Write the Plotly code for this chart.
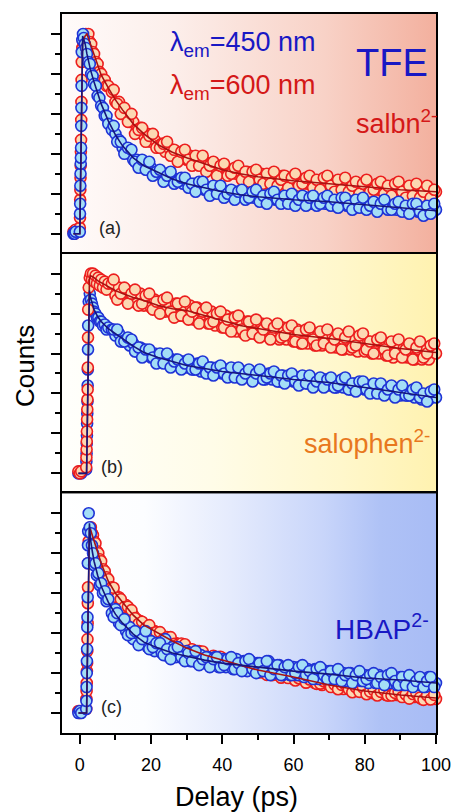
import plotly.graph_objects as go
from plotly.subplots import make_subplots

# ---------------- data ----------------
# delay grids (ps)
delay_a = [-1.8, -1.5, -1.2,
           0.0, 0.05, 0.1, 0.15, 0.2, 0.25, 0.3, 0.35, 0.4, 0.45, 0.5, 0.55,
           0.7, 0.9, 1.1, 1.4, 1.7, 2.0, 2.4, 2.8, 3.2, 3.6, 4.0, 4.5, 5.0, 5.5,
           6.0, 6.5, 7.0, 7.5, 8.0] + list(range(9, 101))
delay_bc = [-0.4, 0.0, 0.4,
            1.8, 1.85, 1.9, 1.95, 2.0, 2.05, 2.1, 2.15, 2.2, 2.25, 2.3, 2.35,
            2.5, 2.8, 3.1, 3.4, 3.7, 4.0, 4.4, 4.8, 5.2, 5.6, 6.0, 6.5, 7.0, 7.5,
            8.0] + list(range(9, 101))
# interleaved half-step delays of the long-time scans
delay_half = [t + 0.5 for t in range(9, 100)]

# (a) salbn2-, normalised counts
salbn_450 = [0.0, 0.0, 0.01,
             .01, .10, .15, .24, .30, .35, .38, .43, .54, .63, .74, .91,
             .97, 1.0, .98, .95, .93, .90, .86, .85, .80, .79, .75, .74, .69, .68,
             .64, .63, .59, .59, .55,
             .52, .50, .47, .43, .42, .40, .37, .37, .34, .35,
             .32, .33, .30, .31, .29, .30, .27, .28, .26, .27,
             .25, .26, .24, .25, .23, .24, .22, .23, .21, .23,
             .21, .22, .20, .21, .19, .21, .19, .20, .18, .20,
             .18, .19, .18, .19, .17, .19, .17, .18, .17, .18,
             .16, .18, .16, .17, .16, .18, .15, .17, .16, .17,
             .15, .17, .15, .16, .15, .16, .14, .16, .14, .15,
             .14, .15, .13, .15, .13, .14, .13, .14, .13, .14,
             .12, .14, .12, .13, .12, .13, .11, .13, .11, .12,
             .11, .12]
salbn_450_half = [.54, .46, .46, .40, .43, .42, .36, .33, .37, .32,
                  .36, .29, .31, .32, .26, .29, .31, .25, .26, .28,
                  .28, .23, .25, .21, .26, .26, .22, .19, .24, .20,
                  .24, .18, .20, .22, .17, .21, .22, .17, .18, .21,
                  .22, .16, .19, .15, .20, .21, .17, .15, .19, .15,
                  .20, .14, .17, .19, .14, .18, .19, .14, .15, .18,
                  .19, .14, .17, .13, .18, .18, .14, .12, .17, .13,
                  .18, .12, .14, .16, .11, .15, .17, .12, .12, .15,
                  .16, .11, .14, .10, .15, .15, .11, .09, .14, .10,
                  .15]
salbn_600 = [0.01, 0.0, 0.02,
             .03, .08, .17, .22, .28, .34, .41, .47, .57, .66, .77, .86,
             .93, .96, .98, .99, 1.0, .99, 1.0, .96, .95, .91, .90, .86, .85, .81,
             .80, .77, .77, .74, .74,
             .71, .66, .66, .61, .60, .56, .56, .52, .53, .49,
             .50, .46, .47, .44, .45, .41, .43, .40, .41, .38,
             .40, .37, .39, .36, .37, .35, .36, .33, .35, .32,
             .34, .31, .33, .30, .32, .30, .31, .29, .31, .28,
             .30, .28, .30, .27, .29, .27, .28, .26, .29, .26,
             .28, .25, .28, .25, .27, .25, .27, .24, .26, .25,
             .26, .24, .26, .23, .26, .23, .25, .23, .25, .22,
             .25, .22, .24, .22, .24, .22, .24, .21, .23, .21,
             .23, .21, .23, .20, .22, .21, .22, .20, .22, .20,
             .22, .21]
salbn_600_half = [.72, .65, .60, .63, .56, .60, .50, .52, .53, .46,
                  .49, .50, .43, .43, .45, .46, .39, .42, .36, .41,
                  .42, .37, .34, .39, .34, .39, .31, .34, .36, .29,
                  .34, .35, .29, .30, .33, .34, .27, .31, .26, .31,
                  .32, .27, .25, .30, .25, .31, .24, .27, .29, .23,
                  .28, .30, .24, .25, .28, .29, .23, .27, .22, .28,
                  .29, .24, .21, .27, .22, .28, .21, .24, .26, .20,
                  .25, .27, .21, .22, .25, .26, .20, .24, .19, .25,
                  .26, .21, .18, .24, .19, .25, .18, .21, .24, .18,
                  .22]

# (b) salophen2-
salophen_450 = [0.0, 0.01, 0.0,
                .02, .06, .10, .15, .19, .25, .30, .36, .44, .52, .62, .74,
                .86, .90, .87, .85, .83, .81, .80, .78, .78, .76, .76, .74, .745, .72,
                .73,
                .72, .69, .70, .66, .67, .64, .65, .61, .63, .59,
                .61, .58, .60, .57, .59, .56, .58, .55, .57, .54,
                .56, .53, .55, .52, .55, .51, .54, .51, .53, .50,
                .53, .50, .52, .49, .52, .49, .51, .48, .51, .48,
                .50, .48, .50, .47, .50, .47, .49, .46, .49, .46,
                .48, .46, .48, .45, .48, .45, .47, .45, .47, .44,
                .47, .44, .46, .43, .46, .43, .45, .42, .45, .42,
                .44, .42, .44, .41, .43, .41, .43, .40, .42, .40,
                .42, .39, .41, .39, .40, .38, .40, .37, .39, .37,
                .39, .38]
salophen_450_half = [.72, .72, .66, .66, .68, .67, .61, .63, .58, .62,
                     .62, .58, .55, .60, .55, .60, .53, .56, .57, .52,
                     .55, .57, .52, .52, .55, .56, .50, .53, .49, .53,
                     .54, .50, .48, .53, .48, .53, .47, .50, .52, .46,
                     .50, .52, .47, .48, .50, .51, .46, .49, .45, .49,
                     .50, .46, .44, .49, .45, .49, .43, .46, .48, .43,
                     .47, .48, .43, .44, .47, .48, .42, .45, .41, .46,
                     .46, .42, .40, .45, .40, .45, .39, .42, .44, .38,
                     .42, .44, .39, .39, .42, .43, .38, .40, .36, .41,
                     .42]
salophen_600 = [0.01, 0.0, 0.01,
                .03, .08, .12, .16, .21, .27, .32, .37, .42, .53, .68, .82,
                .93, .98, 1.0, .97, 1.0, .96, .99, .95, .98, .94, .97, .93, .96, .92,
                .95,
                .95, .89, .93, .88, .92, .86, .90, .85, .90, .84,
                .88, .83, .87, .82, .86, .81, .85, .80, .85, .79,
                .84, .78, .84, .77, .83, .76, .82, .75, .81, .74,
                .80, .73, .79, .72, .78, .71, .77, .70, .76, .70,
                .76, .69, .75, .69, .74, .68, .74, .67, .73, .67,
                .72, .66, .72, .65, .71, .65, .71, .64, .70, .64,
                .70, .64, .69, .63, .69, .62, .68, .62, .67, .61,
                .67, .61, .66, .60, .66, .60, .65, .59, .65, .58,
                .64, .59, .63, .58, .63, .57, .62, .57, .62, .57,
                .61, .60]
salophen_600_half = [.97, .87, .90, .93, .85, .90, .92, .84, .85, .89,
                     .90, .82, .86, .80, .87, .88, .81, .78, .85, .79,
                     .86, .77, .81, .83, .75, .81, .83, .75, .76, .80,
                     .81, .73, .77, .71, .78, .79, .72, .69, .76, .70,
                     .77, .68, .72, .75, .67, .73, .75, .68, .69, .73,
                     .74, .66, .71, .65, .72, .73, .67, .64, .71, .65,
                     .72, .63, .67, .70, .62, .68, .71, .63, .64, .69,
                     .70, .62, .66, .60, .67, .68, .62, .59, .66, .60,
                     .67, .58, .62, .65, .57, .63, .66, .58, .60, .64,
                     .65]

# (c) HBAP2-
hbap_450 = [0.0, 0.01, 0.0,
            .02, .06, .13, .20, .26, .32, .43, .48, .58, .75, .84, .91,
            1.0, .93, .90, .84, .80, .74, .75, .69, .70, .64, .65, .60, .61, .56,
            .57,
            .50, .52, .45, .47, .41, .43, .37, .40, .35, .38,
            .33, .36, .31, .35, .30, .37, .28, .33, .28, .31,
            .27, .31, .26, .30, .25, .29, .25, .28, .24, .28,
            .23, .27, .23, .27, .22, .27, .22, .26, .21, .26,
            .21, .25, .21, .25, .26, .24, .20, .24, .19, .23,
            .19, .23, .19, .23, .18, .22, .18, .22, .17, .22,
            .18, .21, .17, .21, .17, .20, .16, .20, .16, .20,
            .16, .19, .15, .19, .15, .19, .15, .18, .15, .18,
            .14, .18, .14, .18, .14, .17, .14, .17, .13, .18,
            .14, .15]
hbap_450_half = [.48, .50, .44, .47, .39, .40, .41, .34, .37, .41,
                 .32, .33, .35, .35, .29, .32, .27, .32, .33, .28,
                 .26, .30, .26, .31, .24, .27, .28, .23, .27, .28,
                 .23, .24, .27, .28, .22, .25, .21, .26, .27, .22,
                 .20, .25, .21, .26, .19, .22, .24, .19, .23, .24,
                 .19, .20, .23, .24, .19, .21, .17, .22, .23, .19,
                 .17, .21, .17, .22, .16, .19, .20, .15, .19, .21,
                 .16, .17, .19, .20, .15, .18, .14, .19, .20, .16,
                 .14, .18, .14, .19, .13, .16, .18, .13, .16, .18,
                 .13]
hbap_600 = [0.01, 0.0, 0.01,
            .02, .07, .11, .15, .21, .25, .31, .37, .45, .55, .63, .75,
            .86, .92, .93, .90, .89, .86, .85, .81, .80, .77, .76, .72, .71, .68,
            .67,
            .63, .59, .58, .55, .54, .50, .49, .47, .46, .43,
            .43, .41, .41, .39, .39, .37, .37, .35, .35, .34,
            .34, .32, .32, .30, .31, .29, .29, .28, .28, .27,
            .28, .26, .27, .25, .25, .24, .24, .23, .23, .22,
            .23, .21, .21, .20, .21, .19, .20, .19, .19, .18,
            .19, .17, .18, .17, .17, .16, .16, .15, .16, .14,
            .15, .14, .14, .13, .13, .12, .13, .12, .12, .11,
            .12, .11, .11, .10, .11, .10, .10, .09, .10, .09,
            .09, .09, .09, .08, .09, .08, .08, .07, .08, .07,
            .08, .07]
hbap_600_half = [.627, .577, .570, .530, .532, .515, .475, .447, .457, .425,
                 .440, .400, .405, .405, .370, .380, .380, .346, .342, .348,
                 .344, .311, .319, .292, .310, .308, .282, .267, .287, .262,
                 .282, .247, .257, .262, .232, .247, .252, .217, .217, .232,
                 .232, .203, .215, .191, .213, .214, .191, .177, .199, .175,
                 .197, .163, .174, .181, .152, .168, .175, .146, .147, .159,
                 .160, .130, .142, .119, .141, .143, .120, .104, .129, .106,
                 .128, .094, .107, .115, .088, .106, .114, .087, .088, .101,
                 .106, .080, .093, .072, .095, .099, .077, .066, .089, .068,
                 .091]

# fitted decay curves
fit_delay_a = [-1.8, 0.0, 0.8, 1.5, 2.0, 3, 4, 5, 6, 8, 10, 12, 15, 18, 22, 26,
               30, 35, 40, 45, 50, 60, 70, 80, 90, 100]
salbn_450_fit = [0, 0, 0.99, 0.95, 0.90, 0.82, 0.76, 0.70, 0.65, 0.565, 0.495,
                 0.44, 0.38, 0.34, 0.305, 0.274, 0.25, 0.23, 0.21, 0.195, 0.185,
                 0.17, 0.16, 0.145, 0.13, 0.115]
salbn_600_fit = [0, 0, 0.96, 0.99, 1.0, 0.95, 0.89, 0.84, 0.795, 0.73, 0.67,
                 0.62, 0.55, 0.50, 0.445, 0.408, 0.38, 0.35, 0.32, 0.30, 0.285,
                 0.265, 0.25, 0.235, 0.22, 0.21]
fit_delay_bc = [-0.4, 1.9, 2.7, 3.0, 3.5, 4, 5, 6, 8, 10, 12, 15, 18, 22, 26,
                30, 35, 40, 45, 50, 60, 70, 80, 90, 100]
salophen_450_fit = [0, 0, 0.915, 0.88, 0.85, 0.82, 0.785, 0.76, 0.725, 0.70,
                    0.675, 0.637, 0.605, 0.58, 0.56, 0.54, 0.525, 0.51, 0.50,
                    0.49, 0.47, 0.455, 0.43, 0.405, 0.38]
salophen_600_fit = [0, 0, 0.97, 0.99, 0.985, 0.98, 0.965, 0.955, 0.935, 0.915,
                    0.90, 0.88, 0.865, 0.84, 0.824, 0.815, 0.79, 0.765, 0.74,
                    0.725, 0.695, 0.675, 0.65, 0.625, 0.605]
hbap_450_fit = [0, 0, 0.95, 0.87, 0.81, 0.76, 0.69, 0.635, 0.555, 0.495, 0.45,
                0.395, 0.355, 0.325, 0.301, 0.285, 0.265, 0.25, 0.24, 0.23,
                0.21, 0.195, 0.175, 0.165, 0.15]
hbap_600_fit = [0, 0, 0.92, 0.92, 0.89, 0.86, 0.80, 0.75, 0.66, 0.60, 0.555,
                0.49, 0.44, 0.40, 0.361, 0.325, 0.29, 0.265, 0.24, 0.215, 0.18,
                0.14, 0.11, 0.09, 0.075]

x_ticks = [0, 20, 40, 60, 80, 100]

for name, t, v in [("salbn_450", delay_a, salbn_450), ("salbn_600", delay_a, salbn_600),
                   ("salophen_450", delay_bc, salophen_450), ("salophen_600", delay_bc, salophen_600),
                   ("hbap_450", delay_bc, hbap_450), ("hbap_600", delay_bc, hbap_600),
                   ("salbn_450_half", delay_half, salbn_450_half),
                   ("salbn_600_half", delay_half, salbn_600_half),
                   ("salophen_450_half", delay_half, salophen_450_half),
                   ("salophen_600_half", delay_half, salophen_600_half),
                   ("hbap_450_half", delay_half, hbap_450_half),
                   ("hbap_600_half", delay_half, hbap_600_half)]:
    assert len(t) == len(v), (name, len(t), len(v))

# ---------------- styling ----------------
FONT = "Liberation Sans, Arial, sans-serif"
BLUE_EDGE, BLUE_FILL, BLUE_FIT = "#1F33D6", "#A4DEF6", "#16167E"
RED_EDGE, RED_FILL, RED_FIT = "#EC1E1E", "#FCD8B2", "#A81212"
XR = [-5, 100]
YR = [-0.1, 1.1]

panel_gradients = [
    [[0, "#FFFBFA"], [0.3, "#FCEEEA"], [0.7, "#F8D2C7"], [1, "#F3B09E"]],
    [[0, "#FFFFFC"], [0.4, "#FFFCE8"], [0.75, "#FFF7CB"], [1, "#FFF2B0"]],
    [[0, "#FFFFFF"], [0.22, "#FCFDFF"], [0.45, "#E5EBFD"], [0.7, "#C8D5FA"],
     [0.85, "#AFC2F6"], [1, "#A8BCF5"]],
]

fig = make_subplots(rows=3, cols=1, shared_xaxes=True, vertical_spacing=0)


def markers(t, v, edge, fill, row):
    fig.add_trace(go.Scatter(
        x=t, y=v, mode="markers", cliponaxis=False, showlegend=False,
        marker=dict(size=11, color=fill, line=dict(color=edge, width=1.6))),
        row=row, col=1)


def fit_line(t, v, color, row):
    fig.add_trace(go.Scatter(
        x=t, y=v, mode="lines", showlegend=False, hoverinfo="skip",
        line=dict(color=color, width=1.6)), row=row, col=1)


for row, grad in enumerate(panel_gradients, start=1):
    fig.add_trace(go.Scatter(
        x=[XR[0], XR[1], XR[1], XR[0]], y=[YR[0], YR[0], YR[1], YR[1]],
        fill="toself", mode="lines", line=dict(width=0),
        fillgradient=dict(type="horizontal", colorscale=grad),
        hoverinfo="skip", showlegend=False), row=row, col=1)

# (a)
markers(delay_a + delay_half, salbn_600 + salbn_600_half, RED_EDGE, RED_FILL, 1)
markers(delay_a + delay_half, salbn_450 + salbn_450_half, BLUE_EDGE, BLUE_FILL, 1)
fit_line(fit_delay_a, salbn_600_fit, RED_FIT, 1)
fit_line(fit_delay_a, salbn_450_fit, BLUE_FIT, 1)
# (b)
markers(delay_bc + delay_half, salophen_450 + salophen_450_half, BLUE_EDGE, BLUE_FILL, 2)
markers(delay_bc + delay_half, salophen_600 + salophen_600_half, RED_EDGE, RED_FILL, 2)
fit_line(fit_delay_bc, salophen_600_fit, RED_FIT, 2)
fit_line(fit_delay_bc, salophen_450_fit, BLUE_FIT, 2)
# (c)
markers(delay_bc + delay_half, hbap_600 + hbap_600_half, RED_EDGE, RED_FILL, 3)
markers(delay_bc + delay_half, hbap_450 + hbap_450_half, BLUE_EDGE, BLUE_FILL, 3)
fit_line(fit_delay_bc, hbap_600_fit, RED_FIT, 3)
fit_line(fit_delay_bc, hbap_450_fit, BLUE_FIT, 3)

for row in (1, 2, 3):
    fig.update_xaxes(
        row=row, col=1, range=XR, tickvals=x_ticks, ticks="outside", ticklen=9,
        tickwidth=1.5, tickcolor="black", showline=True, linewidth=2,
        linecolor="black", mirror=True, showgrid=False, zeroline=False,
        showticklabels=(row == 3), ticklabelstandoff=5,
        tickfont=dict(family=FONT, size=18, color="black"),
        minor=dict(tickvals=[10, 30, 50, 70, 90], ticks="outside", ticklen=5,
                   tickwidth=1.5, tickcolor="black"))
    fig.update_yaxes(
        row=row, col=1, range=YR, tickvals=[0, 0.2, 0.4, 0.6, 0.8, 1.0],
        ticks="outside", ticklen=9, tickwidth=1.5, tickcolor="black",
        showline=True, linewidth=2, linecolor="black", mirror=True,
        showgrid=False, zeroline=False, showticklabels=False,
        minor=dict(tickvals=[0.1, 0.3, 0.5, 0.7, 0.9], ticks="outside",
                   ticklen=5, tickwidth=1.5, tickcolor="black"))

BLUE_TXT, RED_TXT, ORANGE_TXT = "#1818C4", "#D41818", "#E8781E"


def note(text, x, y, row, size, color, xanchor="center", xshift=0):
    sfx = "" if row == 1 else str(row)
    fig.add_annotation(text=text, x=x, y=y, xref="x" + sfx, yref="y" + sfx,
                       xanchor=xanchor, yanchor="middle", showarrow=False,
                       xshift=xshift,
                       font=dict(family=FONT, size=size, color=color))


note("λ<sub>em</sub>=450 nm", 24.8, 0.95, 1, 27, BLUE_TXT, "left")
note("λ<sub>em</sub>=600 nm", 24.8, 0.735, 1, 27, RED_TXT, "left")
note("TFE", 87.7, 0.855, 1, 38, BLUE_TXT)
note("salbn<sup>2-</sup>", 98.3, 0.56, 1, 27, RED_TXT, "right", xshift=9)
note("(a)", 8.5, 0.03, 1, 18, "#222222")
note("salophen<sup>2-</sup>", 97.0, 0.155, 2, 27, ORANGE_TXT, "right", xshift=7)
note("(b)", 9.0, 0.03, 2, 18, "#222222")
note("HBAP<sup>2-</sup>", 95.8, 0.43, 3, 28, BLUE_TXT, "right", xshift=10)
note("(c)", 9.0, 0.03, 3, 18, "#222222")

fig.add_annotation(text="Counts", xref="paper", yref="paper", x=-0.097, y=0.51,
                   textangle=-90, showarrow=False, xanchor="center", yanchor="middle",
                   font=dict(family=FONT, size=26, color="black"))
fig.add_annotation(text="Delay (ps)", xref="paper", yref="paper", x=0.466, y=-0.089,
                   showarrow=False, xanchor="center", yanchor="middle",
                   font=dict(family=FONT, size=27, color="black"))

fig.update_layout(
    width=463, height=812, margin=dict(l=62, r=19, t=12, b=79),
    paper_bgcolor="white", plot_bgcolor="white", showlegend=False,
    font=dict(family=FONT, color="black"))

fig.write_html("out.html")
